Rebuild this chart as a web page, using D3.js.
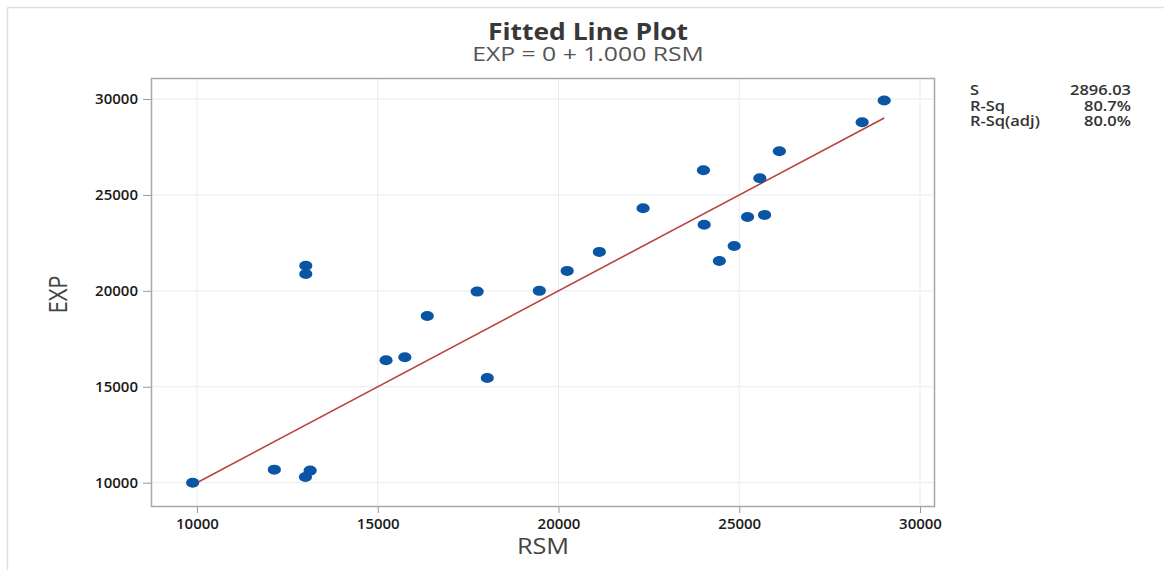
<!DOCTYPE html>
<html>
<head>
<meta charset="utf-8">
<script src="https://cdn.jsdelivr.net/npm/d3@7"></script>
<style>
  html, body { margin: 0; padding: 0; background: #fff; }
  svg { display: block; font-family: "Open Sans", "Noto Sans", sans-serif; }
</style>
</head>
<body>
<svg id="chart" width="1164" height="570"></svg>
<script>
// Observations: RSM (predictor) and EXP (response)
const rsm = [9880, 12140, 13000, 13130, 13010, 13010, 15230, 15750, 16370, 17750, 18030,
             19470, 20240, 21130, 22340, 24010, 24030, 24450, 24860, 25230, 25700, 25570,
             26110, 28400, 29010];
const exp = [10000, 10680, 10300, 10630, 21310, 20880, 16380, 16540, 18690, 19960, 15460,
             20000, 21040, 22030, 24310, 26290, 23450, 21560, 22340, 23850, 23960, 25870,
             27280, 28790, 29920];

// Fitted model EXP = intercept + slope * RSM
const intercept = 0;
const slope = 1.000;

const xTicks = [10000, 15000, 20000, 25000, 30000];
const yTicks = [10000, 15000, 20000, 25000, 30000];

const statNames = ["S", "R-Sq", "R-Sq(adj)"];
const statValues = ["2896.03", "80.7%", "80.0%"];

const titleText = "Fitted Line Plot";
const subtitleText = "EXP = 0 + 1.000 RSM";

const svg = d3.select("#chart");
const W = 1164, H = 570;
const plot = { left: 151, right: 935, top: 78, bottom: 507 };

// Places a horizontally widened text label at (px, py)
function label(parent, px, py, txt, sx) {
  return parent.append("text")
    .attr("transform", `translate(${px},${py}) scale(${sx},1)`)
    .text(txt);
}

// Outer frame (top and left edges only)
svg.append("line").attr("x1", 7.5).attr("x2", W).attr("y1", 7.5).attr("y2", 7.5)
  .attr("stroke", "#e0e0e0").attr("stroke-width", 1.5);
svg.append("line").attr("x1", 7.5).attr("x2", 7.5).attr("y1", 7.5).attr("y2", H)
  .attr("stroke", "#e0e0e0").attr("stroke-width", 1.5);

const x = d3.scaleLinear().domain([8728, 30415]).range([plot.left, plot.right]);
const y = d3.scaleLinear().domain([8733, 31095]).range([plot.bottom, plot.top]);

// Gridlines
const grid = svg.append("g");
grid.selectAll(".gx").data(xTicks).join("line")
  .attr("x1", d => x(d)).attr("x2", d => x(d))
  .attr("y1", plot.top).attr("y2", plot.bottom)
  .attr("stroke", "#ebebeb").attr("stroke-width", 1);
grid.selectAll(".gy").data(yTicks).join("line")
  .attr("y1", d => y(d)).attr("y2", d => y(d))
  .attr("x1", plot.left).attr("x2", plot.right)
  .attr("stroke", "#ebebeb").attr("stroke-width", 1);

// Axes
const xAxis = svg.append("g").attr("transform", `translate(0,${plot.bottom})`)
  .call(d3.axisBottom(x).tickValues(xTicks).tickFormat(d3.format("d")).tickSize(6).tickPadding(5));
const yAxis = svg.append("g").attr("transform", `translate(${plot.left},0)`)
  .call(d3.axisLeft(y).tickValues(yTicks).tickFormat(d3.format("d")).tickSize(8).tickPadding(5));
[xAxis, yAxis].forEach(a => {
  a.select(".domain").remove();
  a.selectAll(".tick line").attr("stroke", "#9a9a9a");
  a.selectAll(".tick text")
    .attr("fill", "#1a1a1a")
    .style("font-size", "15px")
    .style("font-weight", "600")
    .style("font-family", "'Open Sans', sans-serif");
});

// Plot frame
svg.append("rect")
  .attr("x", plot.left + 0.5).attr("y", plot.top + 0.5)
  .attr("width", plot.right - plot.left - 1).attr("height", plot.bottom - plot.top - 1)
  .attr("fill", "none").attr("stroke", "#a8a8a8").attr("stroke-width", 1.5);

// Fitted regression line over the observed RSM range
const xMin = d3.min(rsm), xMax = d3.max(rsm);
svg.append("line")
  .attr("x1", x(xMin)).attr("y1", y(intercept + slope * xMin))
  .attr("x2", x(xMax)).attr("y2", y(intercept + slope * xMax))
  .attr("stroke", "#b8433c").attr("stroke-width", 1.6);

// Data points
const pts = rsm.map((v, i) => ({ x: v, y: exp[i] }));
svg.append("g").selectAll("ellipse").data(pts).join("ellipse")
  .attr("cx", d => x(d.x)).attr("cy", d => y(d.y))
  .attr("rx", 6.6).attr("ry", 5)
  .attr("fill", "#0a56a5");

// Titles
label(svg, 588, 40, titleText, 1.15)
  .attr("text-anchor", "middle").attr("fill", "#383838")
  .style("font-size", "23px").style("font-weight", "700");
label(svg, 588, 61, subtitleText, 1.27)
  .attr("text-anchor", "middle").attr("fill", "#555")
  .style("font-size", "19.5px");

// Axis titles
label(svg, 543, 554, "RSM", 1.15)
  .attr("text-anchor", "middle").attr("fill", "#444")
  .style("font-size", "22px");
svg.append("text")
  .attr("transform", `translate(67,${(plot.top + plot.bottom) / 2 + 2}) rotate(-90) scale(1,1.15)`)
  .attr("text-anchor", "middle").attr("fill", "#444")
  .style("font-size", "22px")
  .text("EXP");

// Summary statistics
const stats = svg.append("g").style("font-size", "13.5px").style("font-weight", "600").attr("fill", "#333");
statNames.forEach((d, i) => label(stats, 970, 95 + i * 15.5, d, 1.22));
statValues.forEach((d, i) => label(stats, 1131, 95 + i * 15.5, d, 1.22).attr("text-anchor", "end"));
</script>
</body>
</html>
